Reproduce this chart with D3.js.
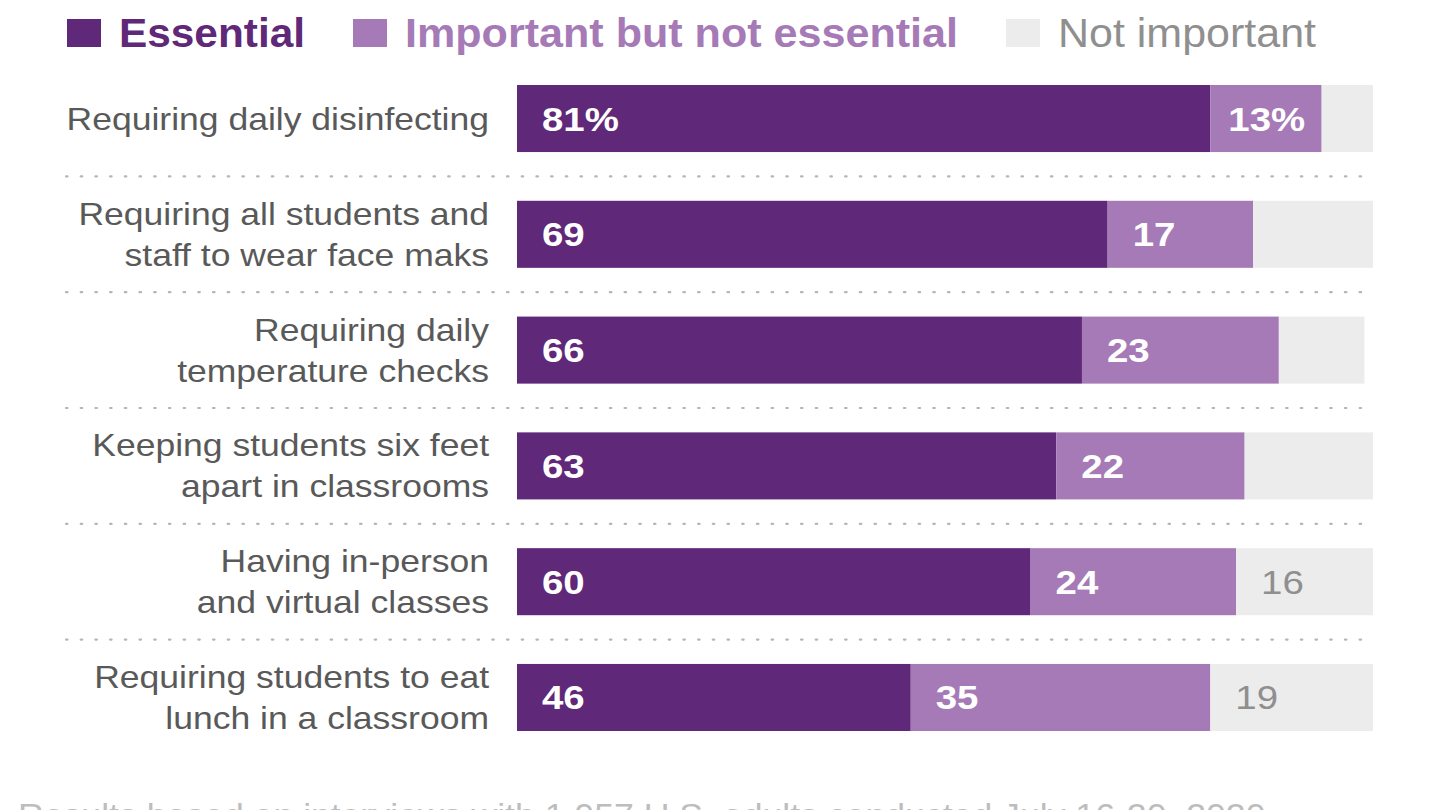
<!DOCTYPE html>
<html><head><meta charset="utf-8">
<script src="https://cdn.jsdelivr.net/npm/d3@7"></script>
<style>
html,body{margin:0;padding:0;background:#fff;}
svg{display:block;font-family:"Liberation Sans",Arial,sans-serif;}
</style></head>
<body>
<svg id="chart" width="1440" height="810"></svg>
<script>
const categories = [
  ["Requiring daily disinfecting"],
  ["Requiring all students and", "staff to wear face maks"],
  ["Requiring daily", "temperature checks"],
  ["Keeping students six feet", "apart in classrooms"],
  ["Having in-person", "and virtual classes"],
  ["Requiring students to eat", "lunch in a classroom"]
];
const essential = [81, 69, 66, 63, 60, 46];
const important = [13, 17, 23, 22, 24, 35];
const notImportant = [6, 14, 10, 15, 16, 19];
const seriesNames = ["Essential", "Important but not essential", "Not important"];
const footnote = "Results based on interviews with 1,057 U.S. adults conducted July 16-20, 2020.";

const colors = ["#5f2878", "#a67ab6", "#ececec"];
const legendText = ["#5f2878", "#a67ab6", "#8f8f8f"];

const svg = d3.select("#chart");
const x = d3.scaleLinear().domain([0, 100]).range([517, 1373]);
const y = d3.scaleBand().domain(d3.range(categories.length)).range([85, 731]).paddingInner(0.421).paddingOuter(0);

// Legend
const legendX = [67, 353, 1006];
const legendW = [186, 553, 258];
seriesNames.forEach((name, i) => {
  const g = svg.append("g");
  g.append("rect").attr("x", legendX[i]).attr("y", 19).attr("width", 34).attr("height", 28).attr("fill", colors[i]);
  g.append("text").attr("x", legendX[i] + 52).attr("y", 47)
    .attr("font-size", 40).attr("font-weight", i < 2 ? "bold" : "normal")
    .attr("textLength", legendW[i]).attr("lengthAdjust", "spacingAndGlyphs")
    .attr("fill", legendText[i]).text(name);
});

// Separators
for (let i = 1; i < categories.length; i++) {
  const yy = (y(i - 1) + y.bandwidth() + y(i)) / 2;
  svg.append("line").attr("x1", 66).attr("x2", 1365).attr("y1", yy).attr("y2", yy)
    .attr("stroke", "#b5b5b5").attr("stroke-width", 2.2).attr("stroke-dasharray", "1.5 13.2").attr("stroke-linecap", "round");
}

const data = categories.map((c, i) => {
  const vals = [essential[i], important[i], notImportant[i]];
  let cum = 0;
  return vals.map((v, k) => { const d = {row: i, k, v, x0: cum, x1: cum + v}; cum += v; return d; });
});

const rows = svg.selectAll("g.row").data(data).enter().append("g").attr("class", "row");
rows.selectAll("rect").data(d => d).enter().append("rect")
  .attr("x", d => x(d.x0)).attr("width", d => x(d.x1) - x(d.x0))
  .attr("y", d => y(d.row)).attr("height", y.bandwidth())
  .attr("fill", d => colors[d.k]);

rows.selectAll("text.val").data(d => d.filter(s => s.k < 2 || s.v >= 16)).enter().append("text")
  .attr("class", "val")
  .attr("transform", d => `translate(${x(d.x0) + (d.row === 0 && d.k === 1 ? 18 : 25)},${y(d.row) + y.bandwidth() / 2 + 12}) scale(1.13,1)`)
  .attr("font-size", 34).attr("font-weight", d => d.k < 2 ? "bold" : "normal")
  .attr("fill", d => d.k < 2 ? "#ffffff" : "#8f8f8f")
  .text(d => d.v + (d.row === 0 && d.k < 2 ? "%" : ""));

// Category labels
categories.forEach((lines, i) => {
  const cy = y(i) + y.bandwidth() / 2;
  const t = svg.append("text").attr("text-anchor", "end").attr("font-size", 32).attr("fill", "#595959")
    .attr("transform", `translate(489,0) scale(1.11,1)`);
  const n = lines.length;
  lines.forEach((ln, j) => {
    t.append("tspan").attr("x", 0).attr("y", cy + 11 + (j - (n - 1) / 2) * 41).text(ln);
  });
});

svg.append("text").attr("x", 18).attr("y", 827).attr("font-size", 33).attr("fill", "#bdbdbd")
  .attr("transform", "translate(18,0) scale(1.08,1) translate(-18,0)").text(footnote);
</script>
</body></html>
